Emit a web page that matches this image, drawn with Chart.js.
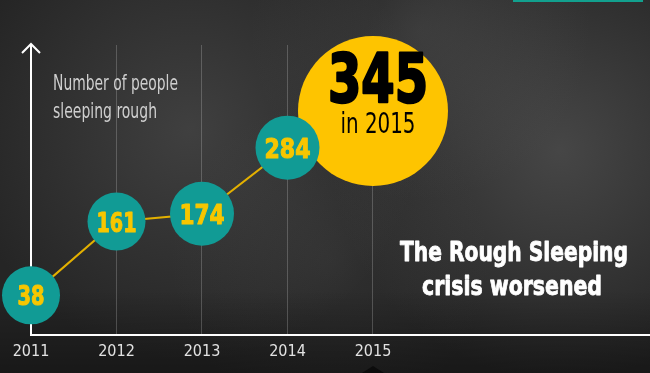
<!DOCTYPE html>
<html>
<head>
<meta charset="utf-8">
<script src="https://cdn.jsdelivr.net/npm/chart.js@4.4.1/dist/chart.umd.min.js"></script>
<style>
  html, body { margin: 0; padding: 0; background: #2b2b2b; overflow: hidden; }
  #wrap { width: 650px; height: 373px; position: relative; }
</style>
</head>
<body>
<div id="wrap"><canvas id="roughChart"></canvas></div>
<script>
// data
var years = [2011, 2012, 2013, 2014, 2015];
var sleepers = [38, 161, 174, 284, 345];
var yearTicks = ['2011', '2012', '2013', '2014', '2015'];

var NARROW = "'Liberation Sans Narrow', 'DejaVu Sans Condensed', 'Liberation Sans', sans-serif";
var TEAL = '#119b95';
var YELLOW = '#fec400';

// draw text squeezed to a given width (the original uses a condensed face)
// heavy > 0 adds a stroke to fake a blacker weight
function squeezeText(ctx, s, x, y, size, weight, color, width, align, heavy) {
  ctx.save();
  ctx.font = weight + ' ' + size + 'px ' + NARROW;
  var w = ctx.measureText(s).width;
  var sx = width / w;
  var left = align === 'center' ? x - width / 2 : x;
  ctx.translate(left, y);
  ctx.scale(sx, 1);
  ctx.fillStyle = color;
  ctx.textAlign = 'left';
  ctx.textBaseline = 'alphabetic';
  ctx.fillText(s, 0, 0);
  if (heavy) {
    ctx.strokeStyle = color;
    ctx.lineWidth = heavy;
    ctx.lineJoin = 'round';
    ctx.strokeText(s, 0, 0);
  }
  ctx.restore();
}

function cloud(ctx, x, y, r, a) {
  var g = ctx.createRadialGradient(x, y, 0, x, y, r);
  g.addColorStop(0, 'rgba(120,120,120,' + a + ')');
  g.addColorStop(1, 'rgba(120,120,120,0)');
  ctx.fillStyle = g;
  ctx.fillRect(0, 0, 650, 373);
}

var backdrop = {
  id: 'backdrop',
  beforeDraw: function(chart) {
    var ctx = chart.ctx;
    ctx.save();
    ctx.fillStyle = '#252525';
    ctx.fillRect(0, 0, chart.width, chart.height);
    cloud(ctx, 190, 130, 230, 0.32);
    cloud(ctx, 560, 150, 230, 0.40);
    cloud(ctx, 420, 30, 170, 0.22);
    cloud(ctx, 330, 260, 160, 0.12);
    var lg = ctx.createLinearGradient(0, 290, 0, 373);
    lg.addColorStop(0, 'rgba(0,0,0,0)');
    lg.addColorStop(1, 'rgba(0,0,0,0.35)');
    ctx.fillStyle = lg;
    ctx.fillRect(0, 290, chart.width, 83);
    // teal strip top right
    ctx.fillStyle = '#12a08e';
    ctx.fillRect(513, 0, 130, 2);
    // dark notch at the bottom
    ctx.fillStyle = '#0c0c0c';
    ctx.beginPath();
    ctx.moveTo(362, 373);
    ctx.lineTo(373, 366);
    ctx.lineTo(384, 373);
    ctx.closePath();
    ctx.fill();
    ctx.restore();
  }
};

var labels = {
  id: 'labels',
  afterDraw: function(chart) {
    var ctx = chart.ctx;
    var area = chart.chartArea;
    // arrow head on the y axis
    ctx.save();
    ctx.strokeStyle = '#ffffff';
    ctx.lineWidth = 2;
    ctx.beginPath();
    ctx.moveTo(area.left - 9, area.top + 8);
    ctx.lineTo(area.left, area.top - 1);
    ctx.lineTo(area.left + 9, area.top + 8);
    ctx.stroke();
    ctx.restore();

    squeezeText(ctx, 'Number of people', 53, 90, 22, 'normal', '#cfcfcf', 125, 'left');
    squeezeText(ctx, 'sleeping rough', 53, 118, 22, 'normal', '#cfcfcf', 104, 'left');

    squeezeText(ctx, 'The Rough Sleeping', 514, 261, 26, 'bold', '#ffffff', 228, 'center', 0.8);
    squeezeText(ctx, 'crisis worsened', 512, 295, 26, 'bold', '#ffffff', 180, 'center', 0.8);

    var big = chart.getDatasetMeta(0).data[4];
    squeezeText(ctx, String(sleepers[4]), big.x + 5, big.y - 9, 68, 'bold', '#000000', 100, 'center', 2.5);
    squeezeText(ctx, 'in ' + years[4], big.x + 5, big.y + 22, 29, 'normal', '#000000', 75, 'center');

    var small = chart.getDatasetMeta(1).data;
    var widths = [27, 40, 45, 46];
    small.forEach(function(pt, i) {
      squeezeText(ctx, String(sleepers[i]), pt.x, pt.y + 10, 26, 'bold', '#f7c600', widths[i], 'center', 1);
    });
  }
};

var roughChart = function() {
  var points = years.map(function(y, i) { return { x: y, y: sleepers[i] }; });
  var config = {
    type: 'line',
    data: {
      datasets: [{
        // line plus the big 2015 bubble, drawn underneath
        data: points,
        order: 2,
        borderColor: '#e3b000',
        borderWidth: 2,
        tension: 0,
        clip: false,
        pointRadius: [0, 0, 0, 0, 75],
        pointHoverRadius: [0, 0, 0, 0, 75],
        pointBorderWidth: 0,
        pointBackgroundColor: YELLOW
      }, {
        // teal bubbles 2011-2014 on top
        data: points.slice(0, 4),
        order: 1,
        showLine: false,
        clip: false,
        pointRadius: [29, 29, 32, 32],
        pointHoverRadius: [29, 29, 32, 32],
        pointBorderWidth: 0,
        pointBackgroundColor: TEAL
      }]
    },
    options: {
      responsive: true,
      maintainAspectRatio: false,
      animation: false,
      events: [],
      layout: { autoPadding: false, padding: { top: 45, left: 0, right: 0, bottom: 0 } },
      plugins: {
        legend: { display: false },
        tooltip: { enabled: false }
      },
      scales: {
        x: {
          type: 'linear',
          min: 2011,
          max: 2018.24,
          afterBuildTicks: function(scale) {
            scale.ticks = years.map(function(v) { return { value: v }; });
          },
          afterFit: function(scale) { scale.height = 38; },
          ticks: {
            color: '#e2e2e2',
            padding: 7,
            maxRotation: 0,
            font: { family: NARROW, size: 16 },
            callback: function(v) { return yearTicks[years.indexOf(v)]; }
          },
          grid: { color: 'rgba(255,255,255,0.2)', lineWidth: 1, drawTicks: false },
          border: { color: '#ffffff', width: 2 }
        },
        y: {
          min: -28,
          max: 455,
          afterFit: function(scale) { scale.width = 31; },
          ticks: { display: false },
          grid: { display: false, drawTicks: false },
          border: { color: '#ffffff', width: 2 }
        }
      }
    },
    plugins: [backdrop, labels]
  };
  new Chart(document.getElementById('roughChart').getContext('2d'), config);
};

roughChart();
</script>
</body>
</html>
